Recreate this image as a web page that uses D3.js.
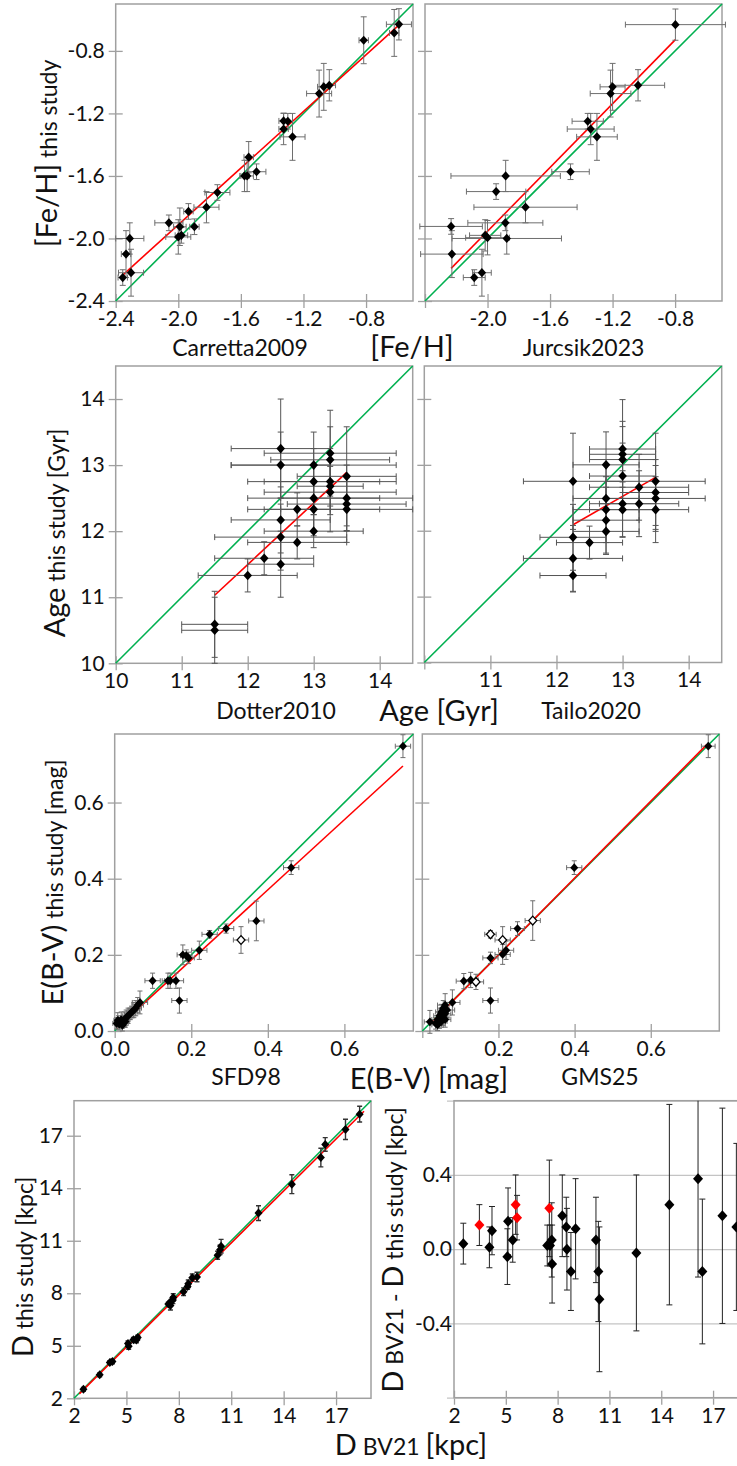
<!DOCTYPE html>
<html>
<head>
<meta charset="utf-8">
<script src="https://cdn.jsdelivr.net/npm/d3@7"></script>
<style>
  body { margin: 0; background: #fff; }
  text { white-space: pre; }
</style>
</head>
<body>
<svg id="chart" width="737" height="1466"></svg>
<script>
// ---------- data ----------
// [Fe/H]: Carretta2009 vs this study
const carrX  = [-0.59, -0.62, -0.815, -1.035, -1.07, -1.10, -1.327, -1.30, -1.327, -1.27, -1.55, -1.577, -1.56, -1.50, -1.75, -1.82, -1.935, -1.897, -2.06, -1.99, -2.00, -1.98, -2.31, -2.334, -2.302, -2.355];
const carrXe = [0.08, 0.03, 0.03, 0.04, 0.04, 0.08, 0.03, 0.03, 0.03, 0.08, 0.03, 0.03, 0.04, 0.06, 0.08, 0.08, 0.03, 0.03, 0.09, 0.04, 0.08, 0.04, 0.09, 0.03, 0.08, 0.03];
const feH1   = [-0.63, -0.685, -0.732, -1.02, -1.03, -1.073, -1.248, -1.25, -1.30, -1.35, -1.48, -1.60, -1.60, -1.573, -1.706, -1.80, -1.827, -1.925, -1.90, -1.925, -1.99, -1.98, -2.0, -2.10, -2.219, -2.25];
const feH1e  = [0.1, 0.15, 0.15, 0.1, 0.15, 0.15, 0.05, 0.05, 0.1, 0.15, 0.1, 0.1, 0.1, 0.05, 0.05, 0.1, 0.05, 0.05, 0.05, 0.12, 0.11, 0.05, 0.1, 0.15, 0.15, 0.05];
const fit1X = [-2.355, -0.58], fit1Y = [-2.234, -0.626];

// [Fe/H]: Jurcsik2023 vs this study
const jurX  = [-0.798, -1.037, -1.20, -1.213, -1.359, -1.34, -1.30, -1.469, -1.884, -1.945, -1.757, -1.886, -2.233, -2.015, -2.0, -1.877, -2.228, -2.036, -2.085];
const jurXe = [0.32, 0.17, 0.08, 0.13, 0.1, 0.15, 0.13, 0.12, 0.35, 0.19, 0.33, 0.24, 0.2, 0.1, 0.14, 0.35, 0.2, 0.06, 0.07];
const feH2  = [-0.632, -1.02, -1.03, -1.073, -1.25, -1.30, -1.35, -1.573, -1.60, -1.70, -1.80, -1.90, -1.923, -1.98, -1.995, -2.0, -2.10, -2.219, -2.25];
const feH2e = [0.1, 0.1, 0.15, 0.15, 0.05, 0.1, 0.15, 0.05, 0.1, 0.05, 0.1, 0.05, 0.05, 0.1, 0.11, 0.1, 0.15, 0.15, 0.05];
const fit2X = [-2.233, -0.798], fit2Y = [-2.191, -0.728];

// Age: Dotter2010 vs this study
const dotX  = [12.5, 12.5, 13.0, 13.25, 13.25, 13.0, 13.25, 13.25, 13.25, 13.5, 13.0, 13.0, 13.5, 13.5, 13.5, 12.75, 12.5, 13.0, 12.5, 12.75, 12.25, 12.5, 12.0, 11.5, 11.5];
const dotXe = [0.75, 0.75, 1.25, 1.0, 0.9, 1.0, 1.0, 0.5, 1.0, 0.75, 1.0, 1.0, 1.0, 0.9, 1.0, 0.5, 0.75, 0.75, 1.0, 0.75, 0.75, 0.5, 0.75, 0.5, 0.5];
const age3  = [13.25, 13.0, 13.0, 13.18, 13.08, 12.75, 12.75, 12.68, 12.59, 12.83, 12.5, 12.33, 12.5, 12.41, 12.33, 12.33, 12.17, 12.0, 11.91, 11.83, 11.59, 11.5, 11.33, 10.59, 10.5];
const age3e = [0.75, 0.5, 0.5, 0.65, 0.5, 0.5, 0.5, 0.3, 0.6, 0.75, 0.5, 0.4, 0.5, 0.4, 0.5, 0.25, 0.5, 0.25, 0.5, 0.25, 0.25, 0.5, 0.25, 0.5, 0.5];
const fit3X = [11.5, 13.5], fit3Y = [11.03, 12.89];

// Age: Tailo2020 vs this study
const taiX  = [13.0, 13.0, 13.0, 12.75, 13.0, 12.25, 13.25, 13.5, 13.5, 13.5, 13.5, 13.25, 13.0, 13.0, 12.75, 12.75, 12.75, 12.75, 12.25, 12.5, 12.25, 12.25];
const taiXe = [0.5, 0.5, 0.5, 0.5, 0.5, 0.75, 0.75, 0.75, 0.5, 0.75, 0.5, 0.6, 0.5, 0.5, 0.5, 0.5, 0.5, 0.5, 0.5, 0.5, 0.75, 0.5];
const age4  = [13.24, 13.16, 13.08, 13.0, 12.83, 12.75, 12.66, 12.75, 12.58, 12.49, 12.32, 12.41, 12.41, 12.32, 12.49, 12.32, 12.16, 11.99, 11.9, 11.82, 11.58, 11.32];
const age4e = [0.75, 0.5, 0.5, 0.5, 0.5, 0.73, 0.5, 0.73, 0.5, 0.5, 0.5, 0.5, 0.5, 0.42, 0.5, 0.5, 0.5, 0.35, 0.5, 0.25, 0.5, 0.25];
const fit4X = [12.25, 13.5], fit4Y = [12.09, 12.81];

// E(B-V): SFD98 vs this study
const sfdX  = [0.753, 0.461, 0.37, 0.33, 0.291, 0.248, 0.221, 0.178, 0.187, 0.193, 0.099, 0.139, 0.145, 0.16, 0.169, 0.066, 0.06, 0.055, 0.05, 0.045, 0.04, 0.035, 0.03, 0.025, 0.02, 0.017, 0.012, 0.01, 0.005, 0.02, 0.028, 0.008];
const sfdXe = [0.02, 0.02, 0.02, 0.02, 0.02, 0.02, 0.02, 0.015, 0.015, 0.015, 0.02, 0.015, 0.015, 0.02, 0.02, 0.02, 0.015, 0.015, 0.015, 0.015, 0.015, 0.015, 0.015, 0.015, 0.015, 0.01, 0.01, 0.01, 0.01, 0.01, 0.01, 0.01];
const ebv5  = [0.748, 0.429, 0.289, 0.239, 0.269, 0.254, 0.212, 0.20, 0.198, 0.192, 0.132, 0.132, 0.132, 0.132, 0.08, 0.075, 0.068, 0.06, 0.055, 0.05, 0.045, 0.04, 0.035, 0.03, 0.022, 0.03, 0.018, 0.025, 0.02, 0.015, 0.025, 0.028];
const ebv5e = [0.03, 0.018, 0.052, 0.035, 0.012, 0.01, 0.024, 0.026, 0.015, 0.015, 0.02, 0.02, 0.02, 0.02, 0.033, 0.03, 0.02, 0.02, 0.02, 0.015, 0.015, 0.02, 0.02, 0.02, 0.015, 0.02, 0.015, 0.015, 0.015, 0.015, 0.015, 0.02];
const sfdOpen = [0, 0, 0, 1, 0, 0, 0, 0, 0, 0, 0, 0, 0, 0, 0, 0, 0, 0, 0, 0, 0, 0, 0, 0, 0, 0, 0, 0, 0, 0, 0, 0];
const fit5X = [0.005, 0.753], fit5Y = [0.007, 0.696];

// E(B-V): GMS25 vs this study
const gmsX  = [0.751, 0.399, 0.29, 0.25, 0.179, 0.211, 0.22, 0.211, 0.179, 0.109, 0.127, 0.141, 0.179, 0.079, 0.065, 0.06, 0.055, 0.06, 0.05, 0.045, 0.05, 0.055, 0.04, 0.045, 0.035, 0.05, 0.06, 0.02, 0.04];
const gmsXe = [0.018, 0.02, 0.02, 0.018, 0.015, 0.02, 0.02, 0.02, 0.02, 0.02, 0.02, 0.02, 0.02, 0.02, 0.02, 0.02, 0.015, 0.015, 0.015, 0.015, 0.015, 0.015, 0.015, 0.015, 0.015, 0.015, 0.015, 0.015, 0.015];
const ebv6  = [0.748, 0.429, 0.29, 0.269, 0.254, 0.239, 0.212, 0.201, 0.192, 0.131, 0.134, 0.129, 0.08, 0.075, 0.055, 0.068, 0.06, 0.045, 0.05, 0.04, 0.03, 0.035, 0.03, 0.022, 0.02, 0.025, 0.03, 0.024, 0.016];
const ebv6e = [0.03, 0.018, 0.052, 0.018, 0.01, 0.035, 0.024, 0.026, 0.015, 0.02, 0.02, 0.02, 0.033, 0.033, 0.02, 0.03, 0.02, 0.02, 0.02, 0.015, 0.015, 0.02, 0.02, 0.015, 0.015, 0.015, 0.02, 0.03, 0.015];
const gmsOpen = [0, 0, 1, 0, 1, 1, 0, 0, 0, 0, 0, 1, 0, 0, 0, 0, 0, 0, 0, 0, 0, 0, 0, 0, 0, 0, 0, 0, 0];
const fit6X = [0.018, 0.747], fit6Y = [0.016, 0.752];

// Distance: BV21 vs this study, and residuals
const bvD   = [2.54, 3.47, 4.05, 4.2, 5.09, 5.13, 5.4, 5.57, 5.65, 7.4, 7.52, 7.56, 7.66, 7.68, 8.27, 8.5, 8.54, 8.77, 9.04, 10.22, 10.36, 10.42, 12.56, 14.47, 16.13, 16.38, 17.54, 18.35];
const dThis = [2.51, 3.34, 4.04, 4.10, 5.13, 4.98, 5.35, 5.33, 5.48, 7.38, 7.30, 7.54, 7.61, 7.76, 8.09, 8.38, 8.54, 8.89, 8.93, 10.17, 10.48, 10.69, 12.58, 14.23, 15.75, 16.50, 17.36, 18.23];
const resD  = [0.03, 0.13, 0.01, 0.10, -0.04, 0.15, 0.05, 0.24, 0.17, 0.02, 0.22, 0.02, 0.05, -0.08, 0.18, 0.12, 0.0, -0.12, 0.11, 0.05, -0.12, -0.27, -0.02, 0.24, 0.38, -0.12, 0.18, 0.12];
const resDe = [0.11, 0.11, 0.11, 0.13, 0.15, 0.18, 0.12, 0.16, 0.12, 0.11, 0.26, 0.11, 0.2, 0.21, 0.22, 0.16, 0.22, 0.21, 0.27, 0.23, 0.27, 0.39, 0.42, 0.54, 0.53, 0.39, 0.58, 0.45];
const resRed = [0, 1, 0, 0, 0, 0, 0, 1, 1, 0, 1, 0, 0, 0, 0, 0, 0, 0, 0, 0, 0, 0, 0, 0, 0, 0, 0, 0];
const fit7X = [2.3, 18.6], fit7Y = [2.25, 18.4];

// ticks
const feTicks = [-2.4, -2.0, -1.6, -1.2, -0.8];
const feText  = ["-2.4", "-2.0", "-1.6", "-1.2", "-0.8"];
const ageTicks = [10, 11, 12, 13, 14];
const ageText  = ["10", "11", "12", "13", "14"];
const ebvTicks = [0, 0.2, 0.4, 0.6];
const ebvText  = ["0.0", "0.2", "0.4", "0.6"];
const dTicks = [2, 5, 8, 11, 14, 17];
const dText  = ["2", "5", "8", "11", "14", "17"];
const resTicks = [-0.8, -0.4, 0, 0.4, 0.8];
const resText  = ["", "-0.4", "0.0", "0.4", ""];

// ---------- drawing ----------
const FONT = "Lato, 'Open Sans', sans-serif";
const TICK_FS = 21, SMALL_FS = 23, BIG_FS = 29;
const GRAY = "#a0a0a0";
const RED = "#ff0000", GREEN = "#00b050";

const svg = d3.select("#chart");
let clipN = 0;

function diamond(w, h) {
  return `M0,${-h}L${w},0L0,${h}L${-w},0Z`;
}

function blank(arr) { return arr.map(() => ""); }

function drawPanel(p) {
  const [l, t, r, b] = p.frame;
  const x = d3.scaleLinear().domain(p.xDomain).range([l, r]);
  const y = d3.scaleLinear().domain(p.yDomain).range([b, t]);
  const g = svg.append("g");

  // axes, ticks cross the frame line
  const xa = g.append("g").attr("transform", `translate(0,${b})`)
    .call(d3.axisBottom(x).tickValues(p.xTicks).tickSize(7).tickPadding(3)
      .tickFormat((d, i) => p.xText[i]));
  const ya = g.append("g").attr("transform", `translate(${l},0)`)
    .call(d3.axisLeft(y).tickValues(p.yTicks).tickSize(7).tickPadding(p.yPad ?? 4)
      .tickFormat((d, i) => p.yText[i]));
  for (const a of [xa, ya]) {
    a.attr("font-size", TICK_FS).attr("font-family", FONT);
    a.select(".domain").remove();
    a.selectAll(".tick line").attr("stroke", GRAY).attr("stroke-width", 1.3);
    a.selectAll(".tick text").attr("fill", "#111");
  }
  xa.selectAll(".tick line").attr("y1", -7);
  if (p.grid) {
    ya.selectAll(".tick line").attr("x1", r - l).attr("stroke", "#c4c4c4");
  } else {
    ya.selectAll(".tick line").attr("x1", 7);
  }

  g.append("rect")
    .attr("x", l).attr("y", t).attr("width", r - l).attr("height", b - t)
    .attr("fill", "none").attr("stroke", GRAY).attr("stroke-width", 1.5);

  const body = g.append("g");
  if (p.clip) {
    const id = "clip" + (clipN++);
    g.append("clipPath").attr("id", id).append("rect")
      .attr("x", l).attr("y", t).attr("width", r - l).attr("height", b - t);
    body.attr("clip-path", `url(#${id})`);
  }

  // 1:1 line and fit
  if (p.fitX) {
    body.append("line")
      .attr("x1", x(p.xDomain[0])).attr("y1", y(p.xDomain[0]))
      .attr("x2", x(p.xDomain[1])).attr("y2", y(p.xDomain[1]))
      .attr("stroke", GREEN).attr("stroke-width", 1.6);
    body.append("path")
      .datum(p.fitX.map((v, i) => [v, p.fitY[i]]))
      .attr("d", d3.line().x(d => x(d[0])).y(d => y(d[1])))
      .attr("fill", "none").attr("stroke", RED).attr("stroke-width", 1.6);
  }

  const pts = p.xs.map((v, i) => ({
    x: v, y: p.ys[i],
    xe: p.xe ? p.xe[i] : 0,
    ye: p.ye ? p.ye[i] : 0,
    open: p.open ? p.open[i] : 0,
    red: p.red ? p.red[i] : 0,
  }));

  const cap = p.cap ?? 3;
  body.selectAll(".ebx").data(pts.filter(d => d.xe > 0)).join("path")
    .attr("d", d => {
      const x0 = x(d.x - d.xe), x1 = x(d.x + d.xe), yy = y(d.y);
      return `M${x0},${yy}H${x1}M${x0},${yy - cap}v${2 * cap}M${x1},${yy - cap}v${2 * cap}`;
    })
    .attr("stroke", p.ebColor || "#6e6e6e").attr("stroke-width", 1).attr("fill", "none");
  body.selectAll(".eby").data(pts.filter(d => d.ye > 0)).join("path")
    .attr("d", d => {
      const y0 = y(d.y - d.ye), y1 = y(d.y + d.ye), xx = x(d.x);
      return `M${xx},${y0}V${y1}M${xx - cap},${y0}h${2 * cap}M${xx - cap},${y1}h${2 * cap}`;
    })
    .attr("stroke", p.ebColor || "#6e6e6e").attr("stroke-width", p.ebWidth || 1).attr("fill", "none");

  body.selectAll(".pt").data(pts).join("path")
    .attr("d", diamond(p.mw, p.mh))
    .attr("transform", d => `translate(${x(d.x)},${y(d.y)})`)
    .attr("fill", d => d.open ? "#fff" : d.red ? RED : "#000")
    .attr("stroke", d => d.open ? "#000" : "none")
    .attr("stroke-width", 1.3);
}

function label(px, py, parts, rotate) {
  const t = svg.append("text")
    .attr("text-anchor", "middle")
    .attr("font-family", FONT)
    .attr("fill", "#111");
  if (rotate) t.attr("transform", `translate(${px},${py}) rotate(-90)`);
  else t.attr("x", px).attr("y", py);
  parts.forEach(([s, fs]) => t.append("tspan").attr("font-size", fs).text(s));
}

// row 1: [Fe/H]
drawPanel({ frame: [115.7, 4, 413, 301], xDomain: [-2.4, -0.5], yDomain: [-2.4, -0.5],
  xTicks: feTicks, xText: feText, yTicks: feTicks, yText: feText,
  xs: carrX, xe: carrXe, ys: feH1, ye: feH1e, fitX: fit1X, fitY: fit1Y, mw: 4.2, mh: 4.6 });
drawPanel({ frame: [425, 4, 722, 301], xDomain: [-2.4, -0.5], yDomain: [-2.4, -0.5],
  xTicks: feTicks, xText: ["", "-2.0", "-1.6", "-1.2", "-0.8"], yTicks: feTicks, yText: blank(feTicks),
  xs: jurX, xe: jurXe, ys: feH2, ye: feH2e, fitX: fit2X, fitY: fit2Y, mw: 4.2, mh: 4.6 });

// row 2: Age
drawPanel({ frame: [115.7, 366, 412.7, 663.3], xDomain: [10, 14.5], yDomain: [10, 14.5],
  xTicks: ageTicks, xText: ageText, yTicks: ageTicks, yText: ageText,
  xs: dotX, xe: dotXe, ys: age3, ye: age3e, fitX: fit3X, fitY: fit3Y, mw: 4.3, mh: 4.8, ebColor: "#555" });
drawPanel({ frame: [424.3, 366, 721.7, 662.5], xDomain: [10, 14.5], yDomain: [10, 14.5],
  xTicks: ageTicks, xText: ["", "11", "12", "13", "14"], yTicks: ageTicks, yText: blank(ageTicks),
  xs: taiX, xe: taiXe, ys: age4, ye: age4e, fitX: fit4X, fitY: fit4Y, mw: 4.3, mh: 4.8, ebColor: "#555" });

// row 3: E(B-V)
drawPanel({ frame: [114.7, 734, 413.3, 1031], xDomain: [0, 0.78], yDomain: [0, 0.78],
  xTicks: ebvTicks, xText: ebvText, yTicks: ebvTicks, yText: ebvText,
  xs: sfdX, xe: sfdXe, ys: ebv5, ye: ebv5e, open: sfdOpen, fitX: fit5X, fitY: fit5Y, mw: 4, mh: 4.4, cap: 2.5 });
drawPanel({ frame: [422.3, 734, 719.3, 1031], xDomain: [0, 0.78], yDomain: [0, 0.78],
  xTicks: ebvTicks, xText: ["", "0.2", "0.4", "0.6"], yTicks: ebvTicks, yText: blank(ebvTicks),
  xs: gmsX, xe: gmsXe, ys: ebv6, ye: ebv6e, open: gmsOpen, fitX: fit6X, fitY: fit6Y, mw: 4, mh: 4.4, cap: 2.5 });

// row 4: distance
drawPanel({ frame: [74, 1100.7, 371, 1398.3], xDomain: [2, 19], yDomain: [2, 19],
  xTicks: dTicks, xText: dText, yTicks: dTicks, yText: dText,
  xs: bvD, ys: dThis, ye: resDe, fitX: fit7X, fitY: fit7Y, mw: 4, mh: 4.5, cap: 2.5, ebColor: "#333", ebWidth: 1.4 });
drawPanel({ frame: [454, 1100.7, 747.6, 1397.7], xDomain: [2, 19], yDomain: [-0.8, 0.8],
  xTicks: dTicks, xText: dText, yTicks: resTicks, yText: resText, yPad: -5, grid: true, clip: true,
  xs: bvD, ys: resD, ye: resDe, red: resRed, mw: 5, mh: 5.5, cap: 3, ebColor: "#222" });

// axis titles
label(57, 153.5, [["[Fe/H]", BIG_FS], [" this study", SMALL_FS]], true);
label(240, 356, [["Carretta2009", SMALL_FS]]);
label(412, 357, [["[Fe/H]", BIG_FS]]);
label(583.5, 356, [["Jurcsik2023", SMALL_FS]]);

label(65, 533, [["Age", BIG_FS], [" this study [Gyr]", SMALL_FS]], true);
label(276, 719, [["Dotter2010", SMALL_FS]]);
label(439, 721, [["Age [Gyr]", BIG_FS]]);
label(591, 719, [["Tailo2020", SMALL_FS]]);

label(63, 882.5, [["E(B-V)", BIG_FS], [" this study [mag]", SMALL_FS]], true);
label(246, 1085, [["SFD98", SMALL_FS]]);
label(429, 1089, [["E(B-V) [mag]", BIG_FS]]);
label(600, 1085, [["GMS25", SMALL_FS]]);

label(33, 1267, [["D", BIG_FS], [" this study [kpc]", SMALL_FS]], true);
label(411, 1455, [["D", BIG_FS], [" BV21 ", SMALL_FS], ["[kpc]", BIG_FS]]);
label(403, 1250, [["D", BIG_FS], [" BV21 - ", SMALL_FS], ["D", BIG_FS], [" this study [kpc]", SMALL_FS]], true);
</script>
</body>
</html>
